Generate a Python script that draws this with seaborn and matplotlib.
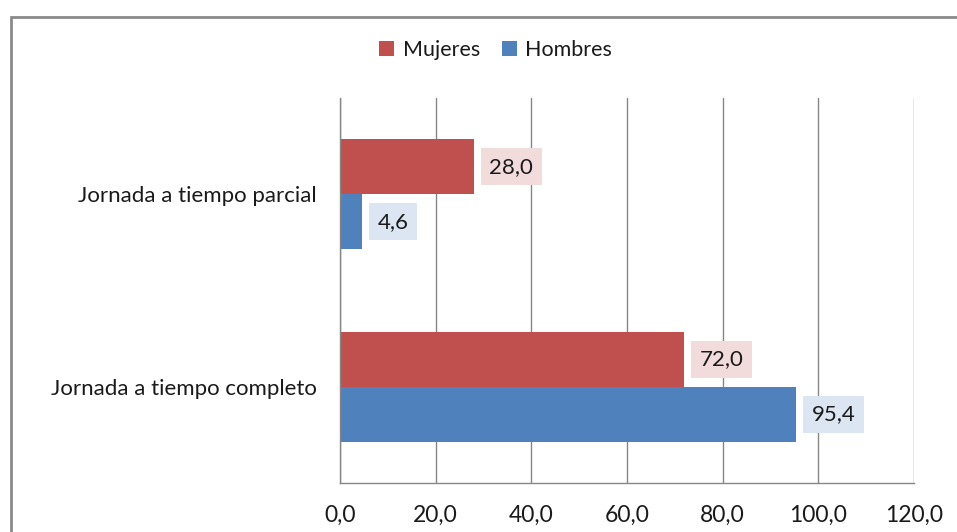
import matplotlib
matplotlib.use('Agg')
import matplotlib.pyplot as plt
import seaborn as sns
import pandas as pd
from matplotlib.patches import Rectangle
from matplotlib.ticker import FixedLocator, FuncFormatter

categories = ["Jornada a tiempo parcial", "Jornada a tiempo completo"]
series = ["Mujeres", "Hombres"]
mujeres = [28.0, 72.0]
hombres = [4.6, 95.4]
x_ticks = [0, 20, 40, 60, 80, 100, 120]

colors = {"Mujeres": "#C0504D", "Hombres": "#4F81BD"}
box_colors = {"Mujeres": "#F2DCDB", "Hombres": "#DCE6F2"}

df = pd.DataFrame({
    "categoria": categories * 2,
    "sexo": ["Mujeres"] * len(categories) + ["Hombres"] * len(categories),
    "valor": mujeres + hombres,
})

sns.set_theme(style="white")
plt.rcParams['font.family'] = ['Lato', 'DejaVu Sans']
TXT = '#1a1a1a'
GRID = '#868686'

fig = plt.figure(figsize=(9.57, 5.32), dpi=100)
ax = fig.add_axes([340 / 957, 1 - 483 / 532, (914 - 340) / 957, (483 - 98) / 532])
sns.barplot(data=df, y="categoria", x="valor", hue="sexo", order=categories,
            hue_order=series, palette=colors, width=0.57, saturation=1,
            orient='h', ax=ax, errorbar=None, linewidth=0)

ax.set_xlim(0, 120)
ax.set_ylim(1.5, -0.5)
ax.set_xlabel("")
ax.set_ylabel("")
ax.xaxis.set_major_locator(FixedLocator(x_ticks))
ax.xaxis.set_major_formatter(FuncFormatter(lambda v, p: f"{v:.1f}".replace('.', ',')))
ax.set_axisbelow(True)
ax.grid(axis='x', color=GRID, lw=1)
ax.grid(axis='y', visible=False)
for s in ['top', 'right']:
    ax.spines[s].set_visible(False)
for s in ['left', 'bottom']:
    ax.spines[s].set_color(GRID)
    ax.spines[s].set_linewidth(1)
ax.tick_params(axis='x', direction='out', length=5, color=GRID, width=1,
               labelsize=16.5, labelcolor=TXT, pad=11)
ax.tick_params(axis='y', which='major', length=0, labelsize=16, labelcolor=TXT, pad=17)
ax.yaxis.set_minor_locator(FixedLocator([-0.5, 0.5, 1.5]))
ax.tick_params(axis='y', which='minor', length=7, color=GRID, width=1, direction='out')

for cont, name in zip(ax.containers, series):
    for bar in cont:
        w = bar.get_width()
        yc = bar.get_y() + bar.get_height() / 2
        ax.annotate(f"{w:.1f}".replace('.', ','), xy=(w, yc), xytext=(11, 0),
                    textcoords='offset points', ha='left', va='center',
                    fontsize=16, color=TXT,
                    bbox=dict(boxstyle='square,pad=0.38', fc=box_colors[name], ec='none'))

handles, labels = ax.get_legend_handles_labels()
if ax.get_legend() is not None:
    ax.get_legend().remove()
fig.legend(handles, labels, loc='center', bbox_to_anchor=(0.518, 0.906), ncol=2,
           frameon=False, handlelength=0.7, handleheight=0.7, handletextpad=0.4,
           columnspacing=1.0, fontsize=15.5, labelcolor=TXT)

fig.patches.append(Rectangle((11 / 957, -0.1), 1.2, 1 - 17 / 532 + 0.1,
                             transform=fig.transFigure, fill=False, ec='#8a8a8a', lw=2))

fig.savefig('out.png', dpi=100)
